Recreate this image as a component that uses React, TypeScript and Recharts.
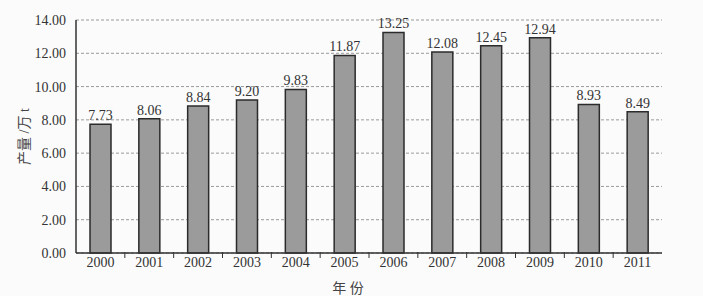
import { BarChart, Bar, XAxis, YAxis, CartesianGrid, LabelList } from "recharts";

const years = ["2000", "2001", "2002", "2003", "2004", "2005", "2006", "2007", "2008", "2009", "2010", "2011"];
const output = [7.73, 8.06, 8.84, 9.2, 9.83, 11.87, 13.25, 12.08, 12.45, 12.94, 8.93, 8.49];
const yTicks = [0, 2, 4, 6, 8, 10, 12, 14];

const data = years.map((year, i) => ({ year, value: output[i] }));

const FONT = "'Liberation Serif', 'Times New Roman', 'Noto Sans CJK SC', serif";
const W = 703;
const H = 296;
const LEFT = 76;
const RIGHT = 41;
const BAND = (W - LEFT - RIGHT) / years.length;

function YearTick(props: any) {
  const { x, y, payload, index } = props;
  return (
    <g>
      {index > 0 && (
        <line x1={x - BAND / 2} x2={x - BAND / 2} y1={y - 9} y2={y - 3} stroke="#333" strokeWidth={1} />
      )}
      <text x={x} y={y + 6} textAnchor="middle" fill="#333" style={{ fontSize: 14, fontFamily: FONT }}>
        {payload.value}
      </text>
    </g>
  );
}

export default function App() {
  return (
    <div style={{ position: "absolute", left: 0, top: 0, width: W, height: H, background: "#fbfbfb", fontFamily: FONT }}>
      <BarChart
        width={W}
        height={H}
        data={data}
        margin={{ top: 20, right: RIGHT, left: 0, bottom: 0 }}
        barSize={21}
      >
        <CartesianGrid vertical={false} stroke="#9a9a9a" strokeDasharray="3 2" />
        <XAxis
          dataKey="year"
          height={43}
          axisLine={{ stroke: "#333", strokeWidth: 1.5 }}
          tickLine={false}
          tick={<YearTick />}
          label={{ value: "年 份", position: "insideBottom", offset: 3, dx: -21, fill: "#444", style: { fontSize: 14, fontFamily: FONT } }}
        />
        <YAxis
          width={LEFT}
          domain={[0, 14]}
          ticks={yTicks}
          interval={0}
          tickFormatter={(v: number) => v.toFixed(2)}
          axisLine={{ stroke: "#333", strokeWidth: 1.5 }}
          tickLine={false}
          tickMargin={4}
          tick={{ fill: "#333", style: { fontSize: 14, fontFamily: FONT } }}
          label={{ value: "产量 /万 t", angle: -90, position: "insideLeft", offset: 24, fill: "#444", style: { textAnchor: "middle", fontSize: 14, fontFamily: FONT } }}
        />
        <YAxis
          yAxisId="frame"
          orientation="right"
          width={0}
          domain={[0, 14]}
          tick={false}
          tickLine={false}
          axisLine={{ stroke: "#8a8a8a", strokeWidth: 1 }}
        />
        <Bar dataKey="value" fill="#9b9b9b" stroke="#2b2b2b" strokeWidth={1.5} isAnimationActive={false}>
          <LabelList
            dataKey="value"
            position="top"
            offset={4}
            formatter={(v: any) => Number(v).toFixed(2)}
            fill="#333"
            style={{ fontSize: 14, fontFamily: FONT }}
          />
        </Bar>
      </BarChart>
    </div>
  );
}
